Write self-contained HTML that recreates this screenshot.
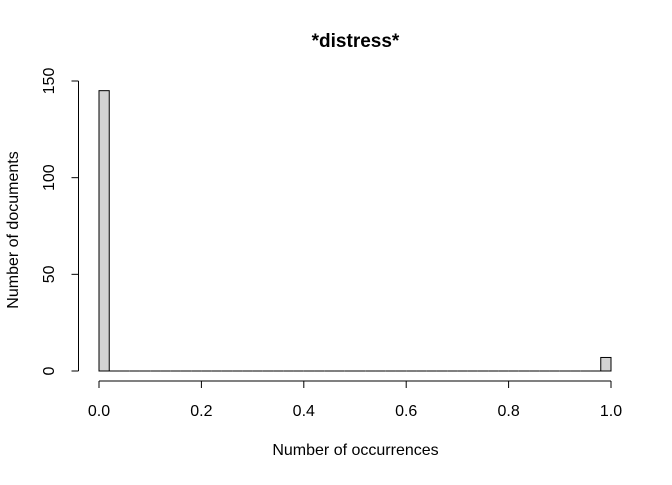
<!DOCTYPE html>
<html><head><meta charset="utf-8"><style>
body{margin:0;background:#fff;}
svg text{font-family:"Liberation Sans",Arial,sans-serif;fill:#000;}
</style></head><body>
<svg width="672" height="480" xmlns="http://www.w3.org/2000/svg">
<text x="355.5" y="47" text-anchor="middle" font-size="19" font-weight="bold">*distress*</text>
<g id="bars"></g>
<g id="xaxis"></g>
<g id="yaxis"></g>
<text x="355.5" y="455" text-anchor="middle" font-size="16">Number of occurrences</text>
<text transform="translate(18,230) rotate(-90)" text-anchor="middle" font-size="16">Number of documents</text>
</svg>
<script>
const binCounts = [145,0,0,0,0,0,0,0,0,0,0,0,0,0,0,0,0,0,0,0,0,0,0,0,0,0,0,0,0,0,0,0,0,0,0,0,0,0,0,0,0,0,0,0,0,0,0,0,0,7];
const xTicks = [0,0.2,0.4,0.6,0.8,1.0];
const xTickLabels = ["0.0","0.2","0.4","0.6","0.8","1.0"];
const yTicks = [0,50,100,150];

const NS="http://www.w3.org/2000/svg";
const xs = v => 99 + v*512;
const ys = v => 371 - v*(290/150);
function mk(tag, attrs){const e=document.createElementNS(NS,tag);for(const k in attrs)e.setAttribute(k,attrs[k]);return e;}

const bars=document.getElementById('bars');
const bw=1/binCounts.length;
binCounts.forEach((c,i)=>{
  const x0=xs(i*bw), x1=xs((i+1)*bw);
  let r;
  if(c>0){
    r=mk('rect',{x:x0,y:ys(c),width:x1-x0,height:ys(0)-ys(c),fill:'#d3d3d3',stroke:'#000','stroke-width':1});
  } else {
    r=mk('line',{x1:x0,x2:x1,y1:ys(0),y2:ys(0),stroke:'#000','stroke-width':1});
  }
  
  
  bars.appendChild(r);
});

const xa=document.getElementById('xaxis');
xa.appendChild(mk('line',{x1:xs(0),x2:xs(1),y1:381,y2:381,stroke:'#000'}));
xTicks.forEach((t,i)=>{
  xa.appendChild(mk('line',{x1:xs(t),x2:xs(t),y1:381,y2:388,stroke:'#000'}));
  const tx=mk('text',{x:xs(t),y:416,'text-anchor':'middle','font-size':16});
  tx.textContent=xTickLabels[i];
  
  
  xa.appendChild(tx);
});

const ya=document.getElementById('yaxis');
ya.appendChild(mk('line',{x1:78.5,x2:78.5,y1:ys(0),y2:ys(150),stroke:'#000'}));
yTicks.forEach(t=>{
  ya.appendChild(mk('line',{x1:71.5,x2:78.5,y1:ys(t),y2:ys(t),stroke:'#000'}));
  const tx=mk('text',{'text-anchor':'middle','font-size':16,transform:`translate(54,${ys(t)}) rotate(-90)`});
  tx.textContent=t;
  
  
  ya.appendChild(tx);
});
</script>
</body></html>
